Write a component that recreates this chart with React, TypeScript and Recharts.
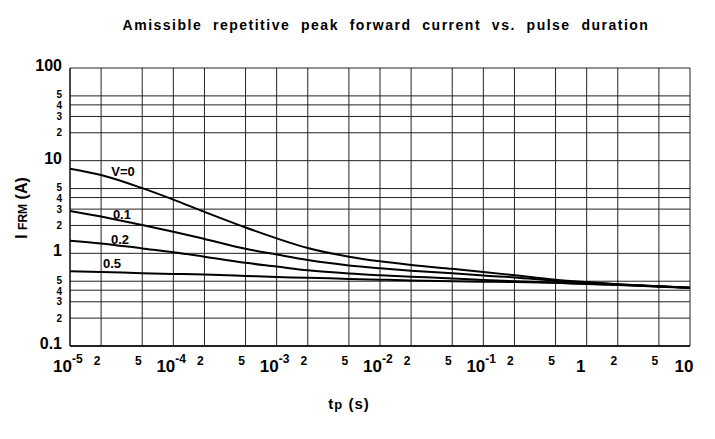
import React from 'react';
import { LineChart, Line, XAxis, YAxis, CartesianGrid, ReferenceDot } from 'recharts';

// pulse duration tp (s), shared by all curves
const tp = [1e-5, 2e-5, 5e-5, 1e-4, 2e-4, 5e-4, 1e-3, 2e-3, 5e-3, 1e-2, 2e-2, 5e-2, 0.1, 0.2, 0.5, 1, 2, 5, 10];

// IFRM (A) per duty cycle V
const ifrmV0 = [8.2, 7.0, 5.05, 3.8, 2.8, 1.9, 1.45, 1.14, 0.92, 0.82, 0.75, 0.68, 0.63, 0.58, 0.52, 0.49, 0.465, 0.44, 0.425];
const ifrmV01 = [2.87, 2.5, 2.02, 1.71, 1.43, 1.12, 0.97, 0.845, 0.74, 0.69, 0.65, 0.61, 0.575, 0.55, 0.505, 0.485, 0.462, 0.44, 0.425];
const ifrmV02 = [1.37, 1.28, 1.13, 1.03, 0.92, 0.79, 0.72, 0.655, 0.605, 0.58, 0.56, 0.535, 0.515, 0.5, 0.48, 0.468, 0.455, 0.437, 0.425];
const ifrmV05 = [0.64, 0.63, 0.61, 0.6, 0.59, 0.57, 0.555, 0.545, 0.53, 0.52, 0.51, 0.5, 0.495, 0.49, 0.48, 0.47, 0.458, 0.44, 0.425];

const curves = [ifrmV0, ifrmV01, ifrmV02, ifrmV05];

// curve labels (tp, IFRM)
const curveLabels = ['V=0', '0.1', '0.2', '0.5'];
const labelTp = [3.26e-5, 3.18e-5, 3.05e-5, 2.55e-5];
const labelI = [7.6, 2.66, 1.43, 0.785];

const xTicks = tp;
const xTickText = ['10|-5', '2', '5', '10|-4', '2', '5', '10|-3', '2', '5', '10|-2', '2', '5', '10|-1', '2', '5', '1', '2', '5', '10'];

const yTicks = [0.1, 0.2, 0.3, 0.4, 0.5, 1, 2, 3, 4, 5, 10, 20, 30, 40, 50, 100];
const yTickText = ['0.1', '2', '3', '4', '5', '1', '2', '3', '4', '5', '10', '2', '3', '4', '5', '100'];

const font = '"Liberation Sans", Arial, Helvetica, sans-serif';

const XTick = (props: any) => {
    const { x, y, index } = props;
    const txt = xTickText[index];
    if (txt.includes('|')) {
        const [base, exp] = txt.split('|');
        return (
            <g fontFamily={font} fontWeight="bold" fill="#000">
                <text x={x + 2} y={y + 26} textAnchor="end" fontSize={17}>{base}</text>
                <text x={x + 2} y={y + 17} textAnchor="start" fontSize={12}>{exp}</text>
            </g>
        );
    }
    const big = txt === '1' || txt === '10';
    return (
        <text x={big ? x - 6 : x - 4} y={big ? y + 26 : y + 19} textAnchor="middle" fontFamily={font}
            fontWeight="bold" fontSize={big ? 17 : 12} fill="#000">
            {txt}
        </text>
    );
};

const YTick = (props: any) => {
    const { x, y, index } = props;
    const txt = yTickText[index];
    const big = txt.length > 1 || txt === '1';
    // the 5 and 4 sit very close together, nudge them apart a little
    const nudge = txt === '5' ? -1 : txt === '4' ? 1 : 0;
    return (
        <text x={x} y={big ? y + 3 : y + 3.5 + nudge} textAnchor="end" fontFamily={font}
            fontWeight="bold" fontSize={big ? 16 : 10} fill="#000">
            {txt}
        </text>
    );
};

const App: React.FC = () => {
    const series = curves.map((c) => tp.map((t, i) => ({ t, i: c[i] })));

    return (
        <div style={{ position: 'absolute', left: 0, top: 0, width: 715, height: 439, background: '#fff' }}>
            <LineChart width={715} height={439} margin={{ top: 68, right: 25, left: 10, bottom: 63 }}>
                <CartesianGrid stroke="#222" strokeWidth={1} />
                <XAxis
                    dataKey="t"
                    type="number"
                    scale="log"
                    domain={[1e-5, 10]}
                    ticks={xTicks}
                    allowDataOverflow
                    interval={0}
                    height={30}
                    tickSize={0}
                    tickMargin={0}
                    tick={<XTick />}
                    axisLine={{ stroke: '#000', strokeWidth: 1.5 }}
                    tickLine={false}
                />
                <YAxis
                    type="number"
                    scale="log"
                    domain={[0.1, 100]}
                    ticks={yTicks}
                    allowDataOverflow
                    interval={0}
                    width={60}
                    tickSize={0}
                    tickMargin={8}
                    tick={<YTick />}
                    axisLine={{ stroke: '#000' }}
                    tickLine={false}
                />
                {series.map((d, k) => (
                    <Line
                        key={k}
                        data={d}
                        dataKey="i"
                        type="monotone"
                        stroke="#000"
                        strokeWidth={2}
                        dot={false}
                        activeDot={false}
                        isAnimationActive={false}
                    />
                ))}
                {curveLabels.map((s, k) => (
                    <ReferenceDot
                        key={s}
                        x={labelTp[k]}
                        y={labelI[k]}
                        r={0}
                        stroke="none"
                        fill="none"
                        label={{ value: s, position: 'center', fontSize: 13, fontWeight: 'bold', fill: '#000', fontFamily: font }}
                    />
                ))}
            </LineChart>
            <svg width={715} height={439} style={{ position: 'absolute', left: 0, top: 0, pointerEvents: 'none' }}>
                <text x={386} y={30} textAnchor="middle" fontFamily={font} fontWeight="bold" fontSize={14}
                    letterSpacing={1.5} style={{ whiteSpace: 'pre' }} fill="#000">
                    Amissible  repetitive  peak  forward  current  vs.  pulse  duration
                </text>
                <text transform="rotate(-90)" x={-208} y={27} textAnchor="middle" fontFamily={font} fontWeight="bold" fill="#000">
                    <tspan fontSize={16}>I </tspan>
                    <tspan fontSize={12}>FRM</tspan>
                    <tspan fontSize={16}> (A)</tspan>
                </text>
                <text x={349} y={409} textAnchor="middle" fontFamily={font} fontWeight="bold" fill="#000" letterSpacing={1}>
                    <tspan fontSize={15}>t</tspan>
                    <tspan fontSize={13}>p</tspan>
                    <tspan fontSize={15}> (s)</tspan>
                </text>
            </svg>
        </div>
    );
};

export default App;
